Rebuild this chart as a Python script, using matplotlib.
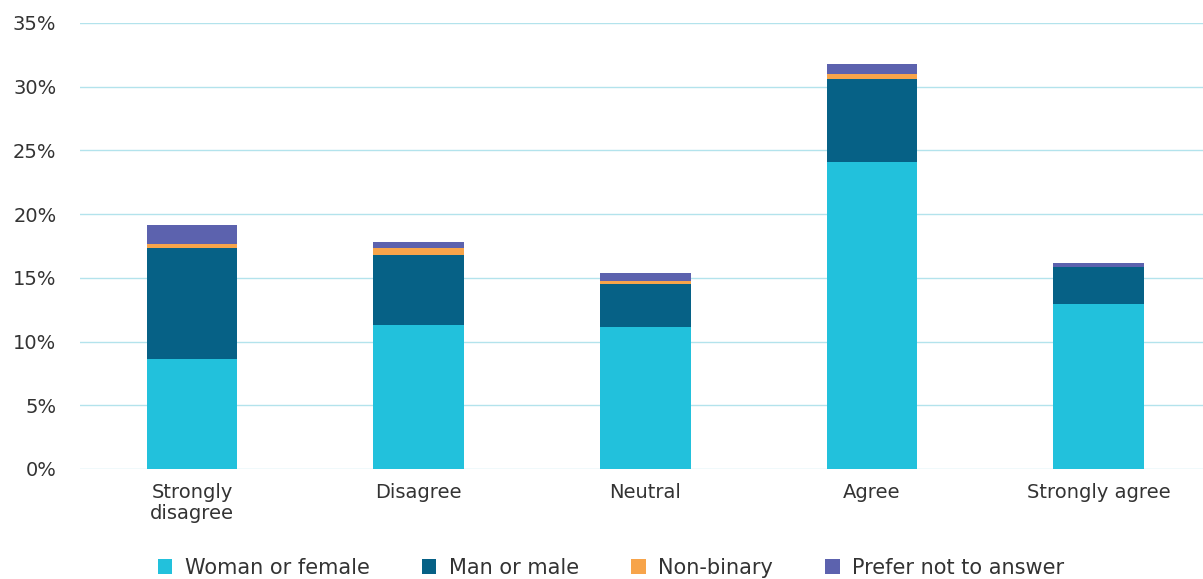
import numpy as np
import matplotlib.pyplot as plt
from matplotlib.ticker import FuncFormatter

# data (percent)
categories = ["Strongly\ndisagree", "Disagree", "Neutral", "Agree", "Strongly agree"]
woman = [8.63, 11.28, 11.12, 24.1, 12.93]
man = [8.69, 5.52, 3.43, 6.54, 2.9]
nonbinary = [0.34, 0.55, 0.18, 0.34, 0.0]
prefer_not = [1.49, 0.47, 0.63, 0.81, 0.36]

series = [("Woman or female", woman, "#22c1dc"),
          ("Man or male", man, "#066186"),
          ("Non-binary", nonbinary, "#f7a44a"),
          ("Prefer not to answer", prefer_not, "#5c62ae")]

plt.rcParams['font.family'] = ['DejaVu Sans']

fig = plt.figure(figsize=(12.03, 5.79), dpi=100)
ax = fig.add_axes([80/1203, 1-469/579, 1-80/1203, (469-23)/579])

x = np.arange(len(categories))
bottom = np.zeros(len(categories))
for name, vals, col in series:
    ax.bar(x, vals, width=0.4, bottom=bottom, color=col, label=name, zorder=3)
    bottom += np.array(vals)

ax.set_xlim(-0.494, len(categories)-0.54)
ax.set_ylim(0, 35)
ax.set_yticks(np.arange(0, 36, 5))
ax.yaxis.set_major_formatter(FuncFormatter(lambda v, p: "%d%%" % v))
ax.grid(axis='y', color='#b3e3ec', linewidth=1, zorder=0)
for s in ax.spines.values():
    s.set_visible(False)
ax.tick_params(length=0, labelsize=14, colors='#333333')
ax.tick_params(axis='y', pad=17)
ax.tick_params(axis='x', pad=10)
ax.set_xticks(x)
ax.set_xticklabels(categories, linespacing=1.15)

fig.legend(loc='lower center', bbox_to_anchor=(0.508, -0.03), ncol=4, frameon=False,
           fontsize=15, handlelength=0.7, handleheight=0.7, columnspacing=2.5,
           handletextpad=0.6, labelcolor='#333333')

fig.savefig("out.png", dpi=100)
